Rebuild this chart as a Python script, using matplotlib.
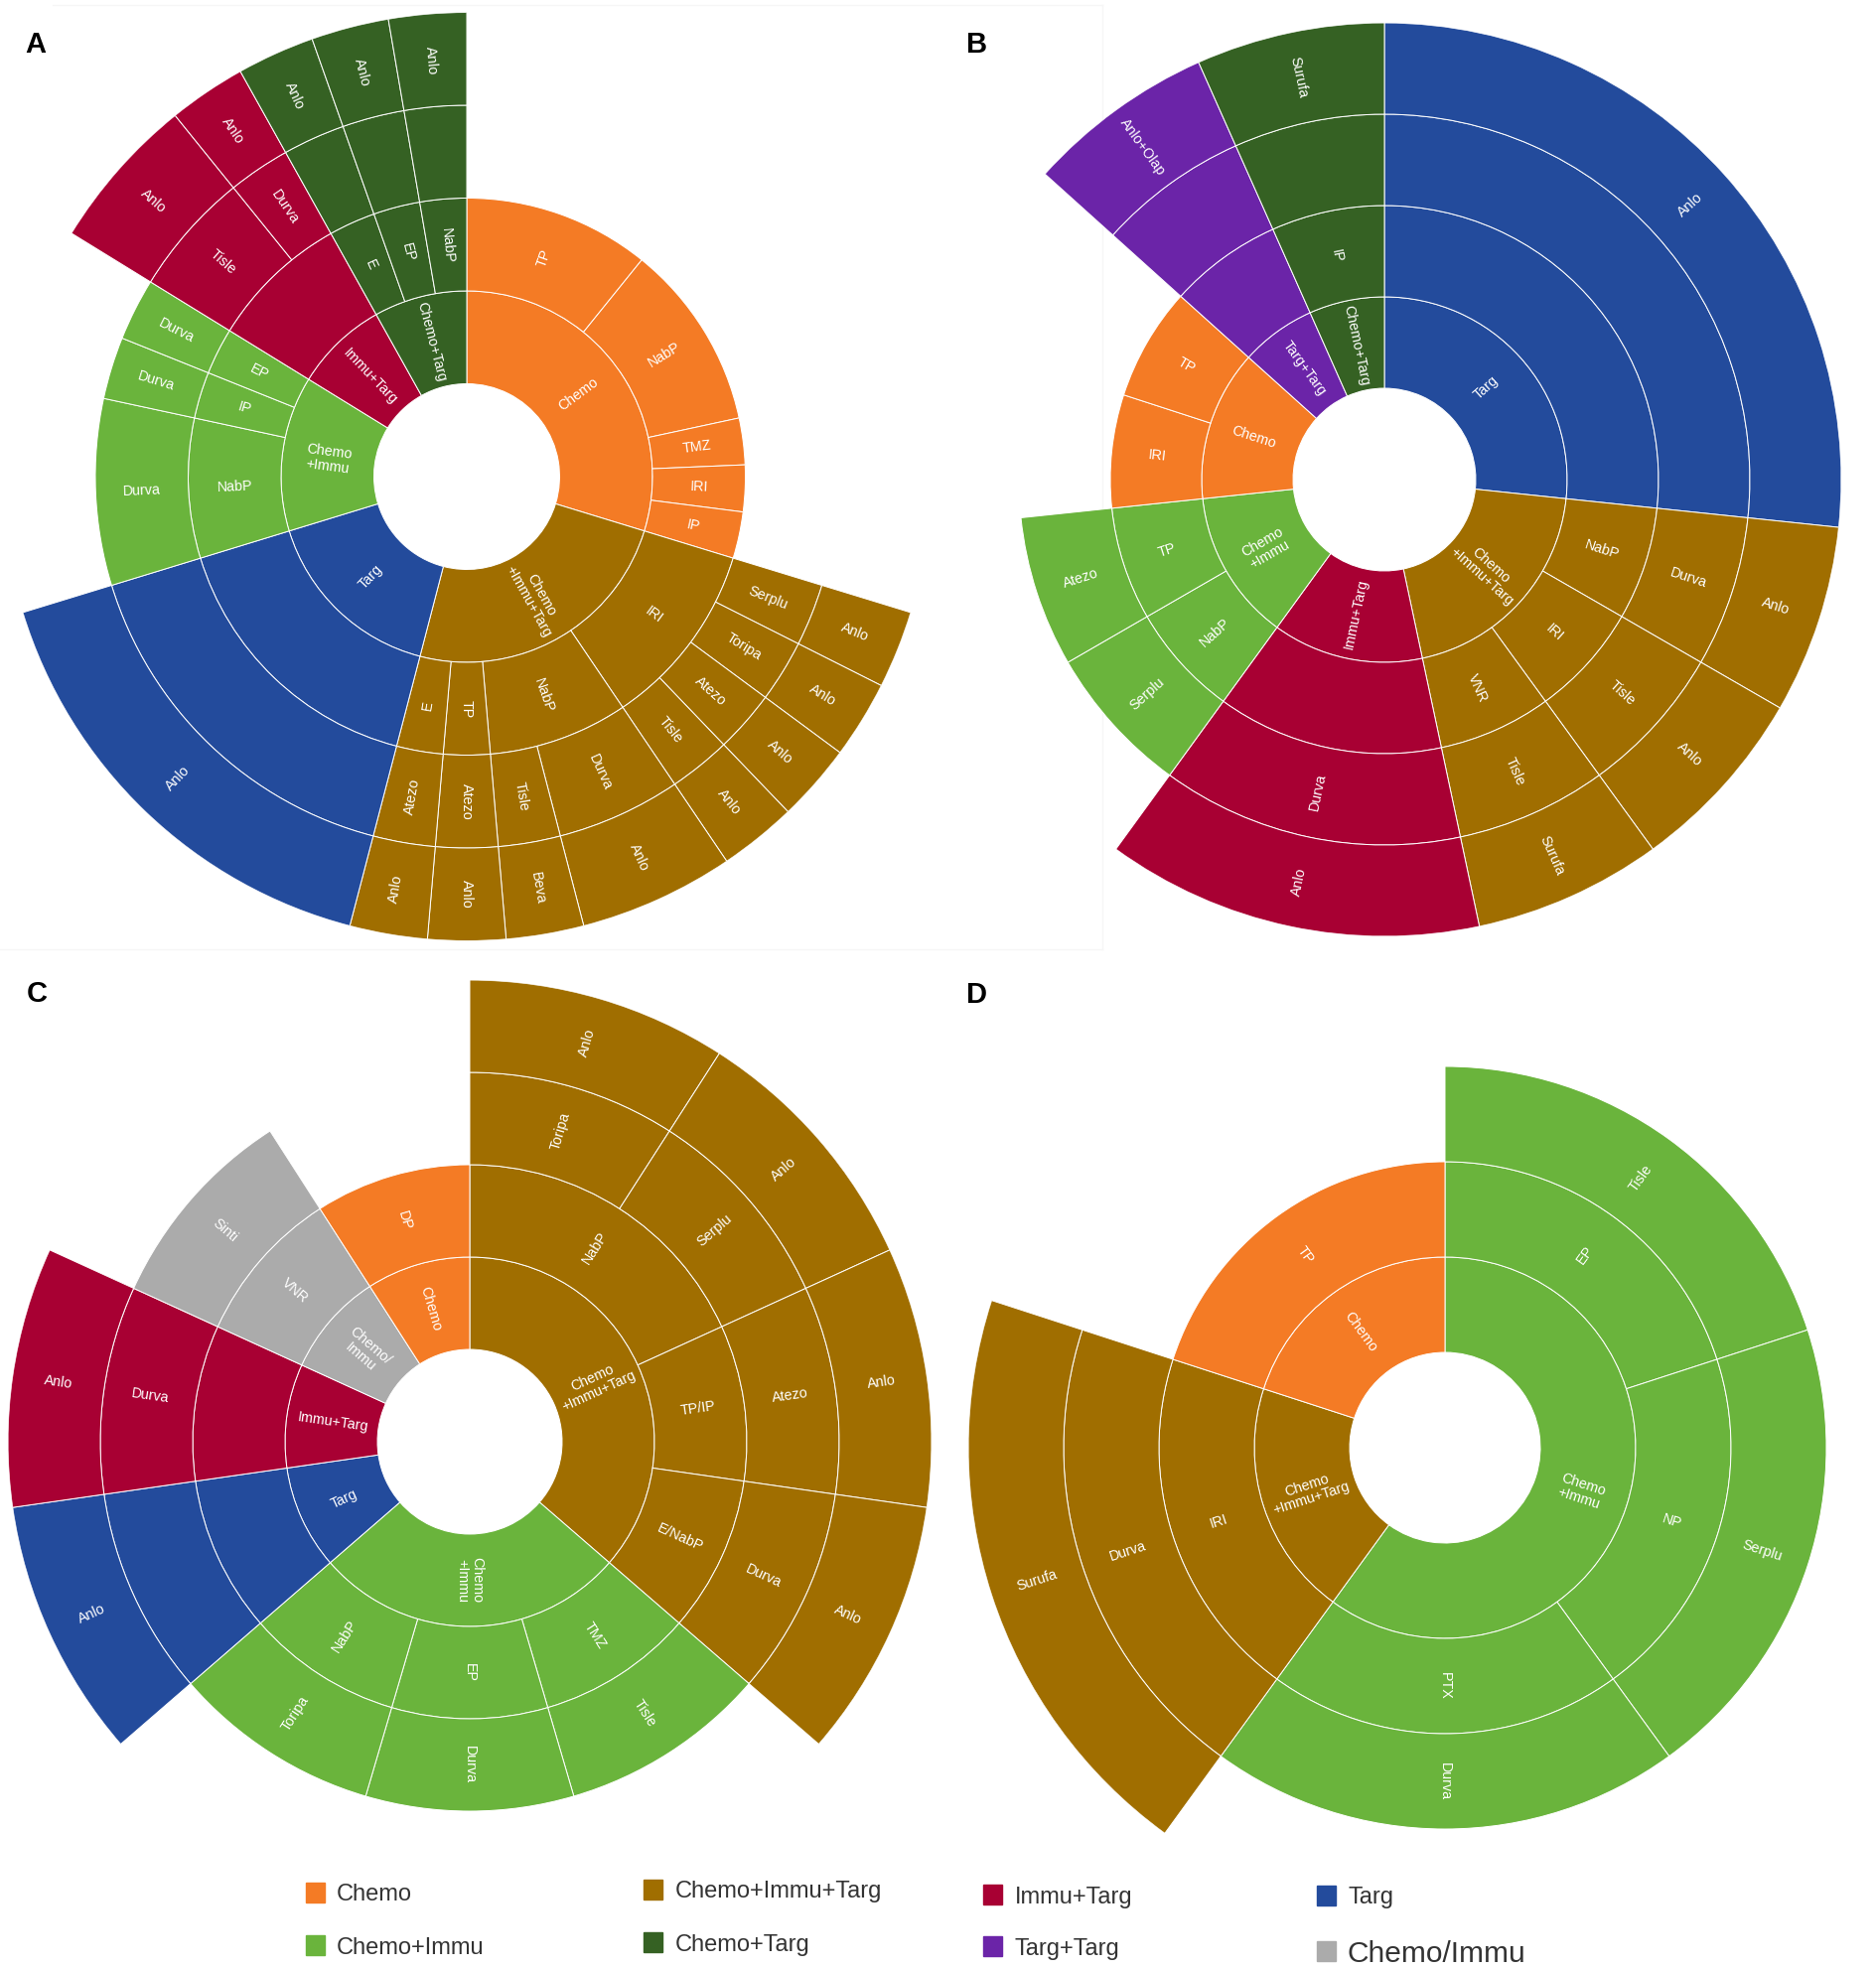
import numpy as np
import matplotlib.pyplot as plt
from matplotlib.patches import Rectangle

plt.rcParams['font.family'] = ['Liberation Sans', 'DejaVu Sans']

W, H = 1890, 1984   # output size in pixels (dpi 100)

colors = {
    "Chemo": "#F47B25",
    "Chemo+Immu": "#6AB43C",
    "Chemo+Immu+Targ": "#A06E00",
    "Chemo+Targ": "#356123",
    "Immu+Targ": "#A80033",
    "Targ+Targ": "#6B24A8",
    "Targ": "#234B9C",
    "Chemo/Immu": "#ABABAB",
}
group_text = {
    "Chemo+Immu+Targ": "Chemo\n+Immu+Targ",
    "Chemo+Immu": "Chemo\n+Immu",
    "Chemo/Immu": "Chemo/\nImmu",
}

# one row per outer leaf, clockwise from 12 o'clock
# (group, ring 2, ring 3, ring 4, n)   None = ring not drawn, "" = blank ring
A_leaves = [
    ("Chemo", "TP", None, None, 4),
    ("Chemo", "NabP", None, None, 4),
    ("Chemo", "TMZ", None, None, 1),
    ("Chemo", "IRI", None, None, 1),
    ("Chemo", "IP", None, None, 1),
    ("Chemo+Immu+Targ", "IRI", "Serplu", "Anlo", 1),
    ("Chemo+Immu+Targ", "IRI", "Toripa", "Anlo", 1),
    ("Chemo+Immu+Targ", "IRI", "Atezo", "Anlo", 1),
    ("Chemo+Immu+Targ", "IRI", "Tisle", "Anlo", 1),
    ("Chemo+Immu+Targ", "NabP", "Durva", "Anlo", 2),
    ("Chemo+Immu+Targ", "NabP", "Tisle", "Beva", 1),
    ("Chemo+Immu+Targ", "TP", "Atezo", "Anlo", 1),
    ("Chemo+Immu+Targ", "E", "Atezo", "Anlo", 1),
    ("Targ", "", "", "Anlo", 6),
    ("Chemo+Immu", "NabP", "Durva", None, 3),
    ("Chemo+Immu", "IP", "Durva", None, 1),
    ("Chemo+Immu", "EP", "Durva", None, 1),
    ("Immu+Targ", "", "Tisle", "Anlo", 2),
    ("Immu+Targ", "", "Durva", "Anlo", 1),
    ("Chemo+Targ", "E", "", "Anlo", 1),
    ("Chemo+Targ", "EP", "", "Anlo", 1),
    ("Chemo+Targ", "NabP", "", "Anlo", 1),
]

B_leaves = [
    ("Targ", "", "", "Anlo", 8),
    ("Chemo+Immu+Targ", "NabP", "Durva", "Anlo", 2),
    ("Chemo+Immu+Targ", "IRI", "Tisle", "Anlo", 2),
    ("Chemo+Immu+Targ", "VNR", "Tisle", "Surufa", 2),
    ("Immu+Targ", "", "Durva", "Anlo", 4),
    ("Chemo+Immu", "NabP", "Serplu", None, 2),
    ("Chemo+Immu", "TP", "Atezo", None, 2),
    ("Chemo", "IRI", None, None, 2),
    ("Chemo", "TP", None, None, 2),
    ("Targ+Targ", "", "", "Anlo+Olap", 2),
    ("Chemo+Targ", "IP", "", "Surufa", 2),
]

C_leaves = [
    ("Chemo+Immu+Targ", "NabP", "Toripa", "Anlo", 1),
    ("Chemo+Immu+Targ", "NabP", "Serplu", "Anlo", 1),
    ("Chemo+Immu+Targ", "TP/IP", "Atezo", "Anlo", 1),
    ("Chemo+Immu+Targ", "E/NabP", "Durva", "Anlo", 1),
    ("Chemo+Immu", "TMZ", "Tisle", None, 1),
    ("Chemo+Immu", "EP", "Durva", None, 1),
    ("Chemo+Immu", "NabP", "Toripa", None, 1),
    ("Targ", "", "", "Anlo", 1),
    ("Immu+Targ", "", "Durva", "Anlo", 1),
    ("Chemo/Immu", "VNR", "Sinti", None, 1),
    ("Chemo", "DP", None, None, 1),
]

D_leaves = [
    ("Chemo+Immu", "EP", "Tisle", None, 1),
    ("Chemo+Immu", "NP", "Serplu", None, 1),
    ("Chemo+Immu", "PTX", "Durva", None, 1),
    ("Chemo+Immu+Targ", "IRI", "Durva", "Surufa", 1),
    ("Chemo", "TP", None, None, 1),
]

# panel: (letter, leaves, centre x, centre y, ring width) in pixels
panels = [
    ("A", A_leaves, 470, 480, 93.5),
    ("B", B_leaves, 1394, 483, 92),
    ("C", C_leaves, 473, 1452, 93),
    ("D", D_leaves, 1455, 1458, 96),
]
letter_pos = {"A": (25, 53), "B": (973, 53), "C": (27, 1009), "D": (973, 1010)}

legend_row1 = ["Chemo", "Chemo+Immu+Targ", "Immu+Targ", "Targ"]
legend_row2 = ["Chemo+Immu", "Chemo+Targ", "Targ+Targ", "Chemo/Immu"]


def label_rotation(theta):
    # theta: clockwise radians from top -> screen angle, kept readable
    phi = (90 - np.degrees(theta) + 180) % 360 - 180
    if phi > 90:
        phi -= 180
    elif phi < -90:
        phi += 180
    return phi


def sunburst(ax, leaves):
    total = sum(l[-1] for l in leaves)
    step = 2 * np.pi / total
    for level in range(4):
        start = 0
        i = 0
        while i < len(leaves):
            key = leaves[i][:level + 1]
            name = leaves[i][level]
            n = 0
            j = i
            while j < len(leaves) and leaves[j][:level + 1] == key:
                n += leaves[j][-1]
                j += 1
            if name is not None:
                th = (start + n / 2) * step
                ax.bar(th, 1, width=n * step, bottom=1 + level,
                       color=colors[leaves[i][0]], edgecolor='#ffffff',
                       linewidth=0.7, align='center')
                txt = group_text.get(name, name) if level == 0 else name
                if txt:
                    ax.text(th, 1.5 + level, txt, rotation=label_rotation(th),
                            rotation_mode='anchor', ha='center', va='center',
                            multialignment='center', color='white',
                            fontsize=10.3, linespacing=1.05)
            start += n
            i = j


fig = plt.figure(figsize=(W / 100, H / 100), dpi=100)

# overlay in pixel coordinates for letters, frames and legend
ov = fig.add_axes([0, 0, 1, 1])
ov.set_xlim(0, W)
ov.set_ylim(H, 0)
ov.set_axis_off()
ov.plot([53, 1110], [5, 5], color='#f6f6f6', lw=1)
ov.plot([1110, 1110], [5, 956], color='#f6f6f6', lw=1)
ov.plot([0, 1110], [956, 956], color='#f6f6f6', lw=1)

for letter, (x, y) in letter_pos.items():
    ov.text(x, y, letter, fontsize=21, fontweight='bold', ha='left',
            va='baseline', color='black')

for letter, leaves, cx, cy, u in panels:
    R = 5 * u
    ax = fig.add_axes([(cx - R) / W, 1 - (cy + R) / H, 2 * R / W, 2 * R / H],
                      projection='polar')
    ax.set_theta_zero_location('N')
    ax.set_theta_direction(-1)
    sunburst(ax, leaves)
    ax.set_ylim(0, 5)
    ax.set_axis_off()

# legend
sq_x = [308, 648, 990, 1326]
txt_x = [339, 680, 1022, 1357]
row_y = [[1906, 1903, 1908, 1909], [1959, 1956, 1960, 1965]]
for r, names in enumerate([legend_row1, legend_row2]):
    for c, name in enumerate(names):
        yc = row_y[r][c]
        ov.add_patch(Rectangle((sq_x[c], yc - 10), 19, 20, color=colors[name]))
        fs = 21.5 if name == "Chemo/Immu" else 17
        ov.text(txt_x[c], yc + 0.36 * fs * 100 / 72, name, fontsize=fs,
                ha='left', va='baseline', color='#333333')

fig.savefig('out.png', dpi=100)
